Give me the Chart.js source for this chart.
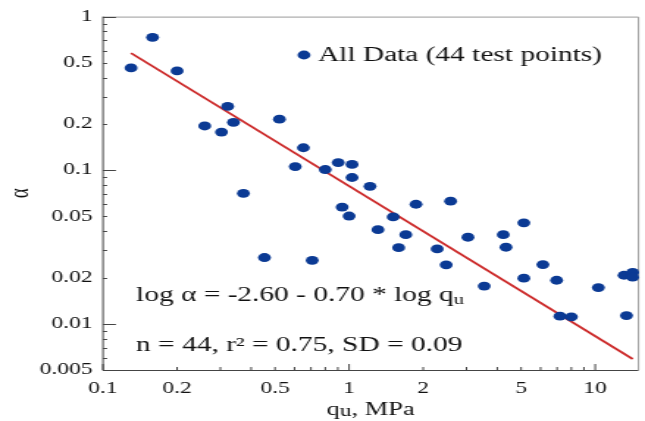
<!DOCTYPE html>
<html>
<head>
<meta charset="utf-8">
<title>Alpha vs unconfined compressive strength</title>
<script src="https://cdn.jsdelivr.net/npm/chart.js@4.4.1/dist/chart.umd.min.js"></script>
<style>
  html, body { margin: 0; padding: 0; background: #fff; }
  #chart { display: block; }
</style>
</head>
<body>
<!-- the figure is drawn narrow and shown stretched sideways -->
<canvas id="chart" width="439" height="421" style="width:645px;height:421px"></canvas>
<script>
// Unconfined compressive strength qu (MPa) and alpha for each test
const qu = [0.13, 0.159, 0.20, 0.259, 0.303, 0.321, 0.339, 0.372, 0.521, 0.453,
            0.604, 0.652, 0.708, 0.80, 0.903, 0.937, 1.0, 1.028, 1.028, 1.216,
            1.31, 1.51, 1.59, 1.70, 1.87, 2.28, 2.585, 2.48, 3.04, 3.54,
            4.23, 4.34, 5.13, 5.13, 6.13, 6.97, 7.19, 8.0, 10.3, 13.1,
            14.2, 14.2, 13.4]
const alpha = [0.463, 0.733, 0.443, 0.194, 0.177, 0.26, 0.205, 0.0707, 0.215, 0.027,
               0.1055, 0.14, 0.0259, 0.101, 0.112, 0.0575, 0.0503, 0.109, 0.0896, 0.0785,
               0.041, 0.0496, 0.0313, 0.038, 0.06, 0.0307, 0.0628, 0.0242, 0.0366, 0.0176,
               0.038, 0.0315, 0.0454, 0.0198, 0.0243, 0.0192, 0.0112, 0.0111, 0.0172, 0.0207,
               0.0216, 0.0201, 0.0113]

// Regression line end points
const fitQu = [0.13, 14.2]
const fitAlpha = [0.578, 0.0059]

// Axis ticks (log decades with 1..9 subdivisions) and which ones get labels
const xTicks = [0.1, 0.2, 0.3, 0.4, 0.5, 0.6, 0.7, 0.8, 0.9, 1, 2, 3, 4, 5, 6, 7, 8, 9, 10]
const xLabels = [0.1, 0.2, 0.5, 1, 2, 5, 10]
const xMajor = [0.1, 1, 10]
const yTicks = [0.005, 0.006, 0.007, 0.008, 0.009, 0.01, 0.02, 0.03, 0.04, 0.05, 0.06, 0.07, 0.08, 0.09,
                0.1, 0.2, 0.3, 0.4, 0.5, 0.6, 0.7, 0.8, 0.9, 1]
const yLabels = [0.005, 0.01, 0.02, 0.05, 0.1, 0.2, 0.5, 1]
const yMajor = [0.01, 0.1, 1]

const SERIF = "'Liberation Serif', 'Times New Roman', serif"
const BLUE = '#0b3a94'
const RED = '#cc2a2a'

Chart.defaults.font.family = SERIF
Chart.defaults.color = '#111'

function setTicks(list) {
  return function(scale) {
    scale.ticks = list.map(v => ({ value: v }))
  }
}

// Frame, inward tick marks and the text annotations
const decorations = {
  id: 'decorations',
  beforeDatasetsDraw(chart) {
    const { ctx, chartArea: a, scales: { x, y } } = chart
    ctx.save()
    ctx.lineWidth = 1
    ctx.strokeStyle = '#9a9a9a'
    ctx.beginPath()
    ctx.moveTo(a.left, a.top + 0.5)
    ctx.lineTo(a.right, a.top + 0.5)
    ctx.lineTo(a.right, a.bottom)
    ctx.stroke()

    ctx.strokeStyle = '#444'
    ctx.beginPath()
    ctx.moveTo(a.left, a.top)
    ctx.lineTo(a.left, a.bottom + 0.5)
    ctx.lineTo(a.right, a.bottom + 0.5)
    ctx.stroke()

    ctx.beginPath()
    yTicks.forEach(v => {
      const py = Math.round(y.getPixelForValue(v)) + 0.5
      const len = yMajor.includes(v) ? 8.8 : 2.8
      ctx.moveTo(a.left, py)
      ctx.lineTo(a.left + len, py)
    })
    xTicks.forEach(v => {
      const px = x.getPixelForValue(v)
      const len = xMajor.includes(v) ? 6 : 3
      ctx.moveTo(px, a.bottom)
      ctx.lineTo(px, a.bottom - len)
    })
    ctx.stroke()
    ctx.restore()
  },
  afterDatasetsDraw(chart) {
    const { ctx, chartArea: a } = chart
    ctx.save()
    ctx.fillStyle = '#111'
    ctx.textBaseline = 'alphabetic'
    ctx.textAlign = 'left'

    // legend
    ctx.fillStyle = BLUE
    ctx.beginPath()
    ctx.arc(a.left + 136.8, 55, 4.4, 0, Math.PI * 2)
    ctx.fill()
    ctx.fillStyle = '#111'
    ctx.font = '20px ' + SERIF
    ctx.fillText('All Data (44 test points)', a.left + 146.3, 61)

    // fit equation
    let tx = a.left + 22.5
    const eq = 'log \u03b1 = -2.60 - 0.70 * log q'
    ctx.fillText(eq, tx, 301)
    tx += ctx.measureText(eq).width
    ctx.font = '14px ' + SERIF
    ctx.fillText('u', tx, 304)

    ctx.font = '20px ' + SERIF
    ctx.fillText('n = 44, r\u00b2 = 0.75, SD = 0.09', a.left + 22.5, 351)

    // x axis title: qu, MPa
    ctx.font = '18px ' + SERIF
    const wq = ctx.measureText('q').width
    const wrest = ctx.measureText(', MPa').width
    ctx.font = '16px ' + SERIF
    const wu = ctx.measureText('u').width
    let hx = (a.left + a.right) / 2 - (wq + wu + wrest) / 2
    ctx.font = '18px ' + SERIF
    ctx.fillText('q', hx, 415)
    hx += wq
    ctx.font = '16px ' + SERIF
    ctx.fillText('u', hx, 416)
    hx += wu
    ctx.font = '18px ' + SERIF
    ctx.fillText(', MPa', hx, 415)

    // y axis title
    ctx.translate(14.1, (a.top + a.bottom) / 2)
    ctx.rotate(-Math.PI / 2)
    ctx.textAlign = 'center'
    ctx.textBaseline = 'middle'
    ctx.font = '19px ' + SERIF
    ctx.fillText('\u03b1', 0, 0)
    ctx.restore()
  }
}

new Chart(document.getElementById('chart'), {
  type: 'scatter',
  data: {
    datasets: [
      {
        label: 'All Data (44 test points)',
        data: qu.map((q, i) => ({ x: q, y: alpha[i] })),
        backgroundColor: BLUE,
        borderWidth: 0,
        pointRadius: 4.4,
        clip: false
      },
      {
        label: 'fit',
        type: 'line',
        data: fitQu.map((q, i) => ({ x: q, y: fitAlpha[i] })),
        borderColor: RED,
        borderWidth: 1.8,
        pointRadius: 0,
        fill: false
      }
    ]
  },
  options: {
    responsive: false,
    devicePixelRatio: 1,
    animation: false,
    layout: { padding: { top: 12, right: 2.7, left: 0, bottom: 0 } },
    plugins: {
      legend: { display: false },
      tooltip: { enabled: false }
    },
    scales: {
      x: {
        type: 'logarithmic',
        min: 0.1,
        max: 15,
        afterBuildTicks: setTicks(xTicks),
        afterFit: function(scale) { scale.height = 51 },
        grid: { display: false, drawTicks: false },
        border: { display: false },
        ticks: {
          autoSkip: false,
          maxRotation: 0,
          padding: 9,
          font: { size: 16 },
          callback: function(value) {
            return xLabels.includes(value) ? String(value) : ''
          }
        }
      },
      y: {
        type: 'logarithmic',
        min: 0.005,
        max: 1,
        afterBuildTicks: setTicks(yTicks),
        afterFit: function(scale) { scale.width = 70.1 },
        grid: { display: false, drawTicks: false },
        border: { display: false },
        ticks: {
          autoSkip: false,
          padding: 7,
          font: { size: 16 },
          callback: function(value) {
            return yLabels.includes(value) ? String(value) : ''
          }
        }
      }
    }
  },
  plugins: [decorations]
})
</script>
</body>
</html>
